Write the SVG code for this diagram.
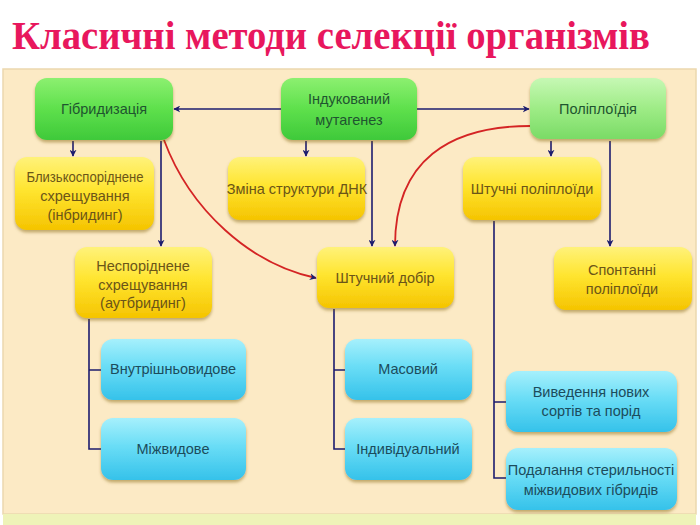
<svg xmlns="http://www.w3.org/2000/svg" width="700" height="525" viewBox="0 0 700 525">
<defs>
<linearGradient id="gG" x1="0" y1="0" x2="0" y2="1">
<stop offset="0" stop-color="#8CF070"/><stop offset="0.5" stop-color="#5EE04C"/><stop offset="1" stop-color="#3FC93A"/>
</linearGradient>
<linearGradient id="gL" x1="0" y1="0" x2="0" y2="1">
<stop offset="0" stop-color="#C6F8B4"/><stop offset="0.5" stop-color="#9EEC86"/><stop offset="1" stop-color="#7ADB66"/>
</linearGradient>
<linearGradient id="gY" x1="0" y1="0" x2="0" y2="1">
<stop offset="0" stop-color="#FFF27A"/><stop offset="0.45" stop-color="#FFE530"/><stop offset="1" stop-color="#F5C400"/>
</linearGradient>
<linearGradient id="gC" x1="0" y1="0" x2="0" y2="1">
<stop offset="0" stop-color="#A6F0FC"/><stop offset="0.45" stop-color="#6ADDF6"/><stop offset="1" stop-color="#35C2EA"/>
</linearGradient>
<filter id="sh" x="-10%" y="-10%" width="120%" height="130%">
<feDropShadow dx="0" dy="2.5" stdDeviation="1.8" flood-color="#7A5A10" flood-opacity="0.45"/>
</filter>
<marker id="ah" viewBox="0 0 10 10" refX="9" refY="5" markerWidth="7" markerHeight="7" markerUnits="userSpaceOnUse" orient="auto">
<path d="M0,0 L10,5 L0,10 L3,5 Z" fill="#1C1C6E"/>
</marker>
</defs>
<style>
.g rect{fill:url(#gG);filter:url(#sh)}
.l rect{fill:url(#gL);filter:url(#sh)}
.y rect{fill:url(#gY);filter:url(#sh)}
.c rect{fill:url(#gC);filter:url(#sh)}
.nd text{font-family:"Liberation Sans",Arial,sans-serif;font-size:14.5px;text-anchor:middle}
.g text,.l text{fill:#1F5530}
.y text{fill:#6B5518}
.c text{fill:#1C4C5C}
.ln{fill:none;stroke:#1C1C6E;stroke-width:1.6}
.rd{fill:none;stroke:#D42424;stroke-width:1.8}
.ttl{font-family:"Liberation Serif","DejaVu Serif","Noto Serif",serif;font-weight:bold;font-size:39px;fill:#E8175D}
</style>
<rect x="0" y="0" width="700" height="525" fill="#FFFFFF"/>
<text class="ttl" x="12" y="49" textLength="638" lengthAdjust="spacingAndGlyphs">Класичні методи селекції організмів</text>
<rect x="3" y="69" width="693" height="445" fill="#FCEAC5" stroke="#EBD8AE" stroke-width="1.5"/>
<rect x="3" y="514" width="693" height="11" fill="#EEF3B8"/>

<g id="connectors">
<line class="ln" x1="281" y1="109" x2="174" y2="109" marker-end="url(#ah)"/>
<line class="ln" x1="417" y1="109" x2="529" y2="109" marker-end="url(#ah)"/>
<line class="ln" x1="73" y1="141" x2="73" y2="156" marker-end="url(#ah)"/>
<line class="ln" x1="161" y1="141" x2="161" y2="246" marker-end="url(#ah)"/>
<line class="ln" x1="306" y1="141" x2="306" y2="156" marker-end="url(#ah)"/>
<line class="ln" x1="372" y1="141" x2="372" y2="246" marker-end="url(#ah)"/>
<line class="ln" x1="551" y1="141" x2="551" y2="156" marker-end="url(#ah)"/>
<line class="ln" x1="610" y1="141" x2="610" y2="246" marker-end="url(#ah)"/>
<path class="ln" d="M89,319 V449 H101 M89,370 H101"/>
<path class="ln" d="M334,309 V449 H345 M334,370 H345"/>
<path class="ln" d="M494,221 V478 H506 M494,402 H506"/>
<path class="rd" d="M164,140 C190,210 250,264 316,278" marker-end="url(#ah)"/>
<path class="rd" d="M530,126 C450,126 395,160 395,246" marker-end="url(#ah)"/>
</g>

<g id="n-hybrid" class="nd g"><rect x="35" y="78" width="138" height="62" rx="12"/><text x="104" y="114">Гібридизація</text></g>
<g id="n-mutagen" class="nd g"><rect x="281" y="78" width="136" height="62" rx="12"/><text x="349" y="104">Індукований</text><text x="349" y="125">мутагенез</text></g>
<g id="n-poly" class="nd l"><rect x="530" y="78" width="136" height="61" rx="12"/><text x="598" y="114">Поліплоїдія</text></g>
<g id="n-inbr" class="nd y"><rect x="15" y="157" width="139" height="73" rx="12"/><text x="85" y="182" textLength="117" lengthAdjust="spacingAndGlyphs">Близькоспоріднене</text><text x="85" y="201">схрещування</text><text x="85" y="220">(інбридинг)</text></g>
<g id="n-dna" class="nd y"><rect x="228" y="157" width="137" height="63" rx="12"/><text x="297" y="194">Зміна структури ДНК</text></g>
<g id="n-artpoly" class="nd y"><rect x="463" y="157" width="138" height="63" rx="12"/><text x="532" y="194">Штучні поліплоїди</text></g>
<g id="n-outbr" class="nd y"><rect x="75" y="247" width="137" height="71" rx="12"/><text x="143" y="271">Неспоріднене</text><text x="143" y="290">схрещування</text><text x="143" y="308">(аутбридинг)</text></g>
<g id="n-select" class="nd y"><rect x="317" y="247" width="137" height="61" rx="12"/><text x="385" y="283">Штучний добір</text></g>
<g id="n-spont" class="nd y"><rect x="554" y="247" width="138" height="63" rx="12"/><text x="622" y="275">Спонтанні</text><text x="622" y="294">поліплоїди</text></g>
<g id="n-intra" class="nd c"><rect x="101" y="339" width="145" height="61" rx="12"/><text x="173" y="374">Внутрішньовидове</text></g>
<g id="n-inter" class="nd c"><rect x="101" y="418" width="145" height="62" rx="12"/><text x="173" y="454">Міжвидове</text></g>
<g id="n-mass" class="nd c"><rect x="345" y="339" width="127" height="61" rx="12"/><text x="408" y="374">Масовий</text></g>
<g id="n-indiv" class="nd c"><rect x="345" y="418" width="127" height="62" rx="12"/><text x="408" y="454">Індивідуальний</text></g>
<g id="n-breed" class="nd c"><rect x="506" y="371" width="171" height="61" rx="12"/><text x="591" y="397">Виведення нових</text><text x="591" y="416">сортів та порід</text></g>
<g id="n-steril" class="nd c"><rect x="506" y="448" width="171" height="62" rx="12"/><text x="591" y="475">Подалання стерильності</text><text x="591" y="495">міжвидових гібридів</text></g>
</svg>
